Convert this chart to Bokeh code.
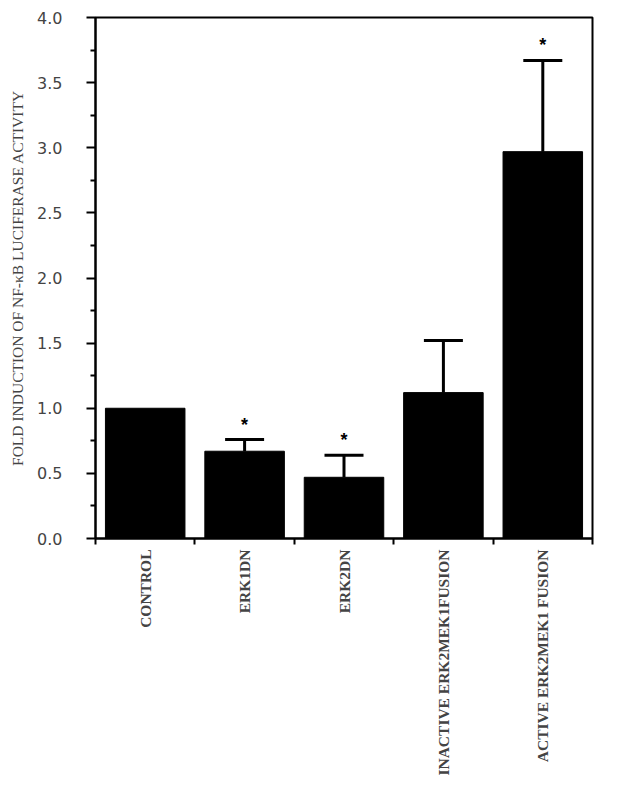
import math
from bokeh.plotting import figure
from bokeh.models import ColumnDataSource, FixedTicker, Range1d, Whisker, TeeHead, CustomJSTickFormatter
from bokeh.core.properties import value
from bokeh.embed import file_html
from bokeh.resources import INLINE

categories = ["CONTROL", "ERK1DN", "ERK2DN", "INACTIVE ERK2MEK1FUSION", "ACTIVE ERK2MEK1 FUSION"]
fold_induction = [1.0, 0.67, 0.47, 1.12, 2.97]
error_upper = [0.0, 0.09, 0.17, 0.40, 0.70]
significant = [False, True, True, False, True]
y_ticks = [0.0, 0.5, 1.0, 1.5, 2.0, 2.5, 3.0, 3.5, 4.0]
y_minor = [0.25, 0.75, 1.25, 1.75, 2.25, 2.75, 3.25, 3.75]

xs = [i + 0.5 for i in range(len(categories))]
uppers = [v + e for v, e in zip(fold_induction, error_upper)]

src = ColumnDataSource(dict(x=xs, top=fold_induction, upper=uppers))
err_idx = [i for i, e in enumerate(error_upper) if e > 0]
err_src = ColumnDataSource(dict(x=[xs[i] for i in err_idx],
                                top=[fold_induction[i] for i in err_idx],
                                upper=[uppers[i] for i in err_idx]))
star_idx = [i for i, s in enumerate(significant) if s]
star_src = ColumnDataSource(dict(x=[xs[i] for i in star_idx],
                                 y=[uppers[i] for i in star_idx],
                                 t=["*"] * len(star_idx)))

p = figure(width=620, height=779, output_backend="svg", toolbar_location=None,
           x_range=Range1d(0, len(categories)), y_range=Range1d(0, 4),
           min_border_left=95, min_border_top=17, min_border_right=28, min_border_bottom=241)
p.grid.visible = False
p.outline_line_color = "black"
p.outline_line_width = 2
p.background_fill_color = "white"

p.vbar(x="x", top="top", bottom=0, width=0.8, source=src, fill_color="black", line_color="black")

w = Whisker(source=err_src, base="x", upper="upper", lower="top", dimension="height",
            line_color="black", line_width=3,
            upper_head=TeeHead(size=39, line_color="black", line_width=3), lower_head=None)
p.add_layout(w)

p.text(x="x", y="y", text="t", source=star_src, text_align="center", text_baseline="middle",
       y_offset=-15, text_font=value("Liberation Sans"), text_font_style="bold",
       text_font_size="18px", text_color="black")

# y axis
ya = p.yaxis[0]
ya.ticker = FixedTicker(ticks=y_ticks, minor_ticks=y_minor)
ya.formatter = CustomJSTickFormatter(code="return tick.toFixed(1);")
ya.axis_label = "FOLD INDUCTION OF NF-κB LUCIFERASE ACTIVITY"
ya.axis_label_text_font = "Liberation Serif"
ya.axis_label_text_font_style = "normal"
ya.axis_label_text_font_size = "15.5px"
ya.axis_label_standoff = 8
ya.major_label_text_font = "DejaVu Sans"
ya.major_label_text_font_size = "16px"
ya.major_label_standoff = 24
ya.major_tick_in = 0
ya.major_tick_out = 9
ya.minor_tick_in = 0
ya.minor_tick_out = 5
ya.axis_line_width = 2
ya.major_tick_line_width = 2
ya.minor_tick_line_width = 2

# x axis
xa = p.xaxis[0]
xa.ticker = FixedTicker(ticks=xs, minor_ticks=list(range(len(categories) + 1)))
xa.major_label_overrides = {x: c for x, c in zip(xs, categories)}
xa.major_label_orientation = math.pi / 2
xa.major_label_text_font = "Liberation Serif"
xa.major_label_text_font_style = "bold"
xa.major_label_text_font_size = "15.5px"
xa.major_label_standoff = 5
xa.major_tick_in = 0
xa.major_tick_out = 0
xa.minor_tick_in = 0
xa.minor_tick_out = 6
xa.minor_tick_line_width = 2
xa.axis_line_width = 2

open("out.html", "w").write(file_html(p, INLINE))
